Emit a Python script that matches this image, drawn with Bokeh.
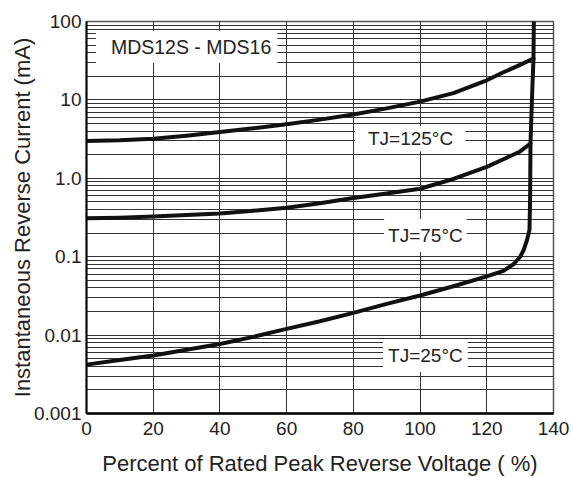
from bokeh.plotting import figure
from bokeh.models import FixedTicker, Range1d, Label
from bokeh.embed import file_html
from bokeh.resources import INLINE

# ---- data ----
pct_125 = [0, 10, 20, 30, 40, 50, 60, 70, 80, 90, 100, 110, 120, 125, 130, 134.0]
ir_125 = [3.0, 3.05, 3.2, 3.5, 3.9, 4.35, 4.9, 5.6, 6.5, 7.8, 9.5, 12.2, 17.8, 22.5, 28.0, 33.7]

pct_75 = [0, 10, 20, 30, 40, 50, 60, 70, 80, 90, 100, 110, 120, 125, 130, 133.1]
ir_75 = [0.31, 0.315, 0.325, 0.34, 0.355, 0.385, 0.42, 0.48, 0.56, 0.64, 0.735, 0.98, 1.4, 1.75, 2.2, 2.78]

pct_25 = [0, 10, 20, 30, 40, 50, 60, 70, 80, 90, 100, 110, 120, 125, 128, 130, 131.0, 132.0,
          132.8, 133.0, 133.1, 133.6, 134.0, 134.1]
ir_25 = [0.0042, 0.0048, 0.0055, 0.0065, 0.0077, 0.0095, 0.012, 0.015, 0.0192, 0.025, 0.032,
         0.042, 0.056, 0.066, 0.08, 0.1, 0.12, 0.16, 0.22, 0.6, 2.78, 12.0, 34.0, 100.0]

x_ticks = [0, 20, 40, 60, 80, 100, 120, 140]
y_ticks = [0.001, 0.01, 0.1, 1, 10, 100]
y_tick_labels = ["0.001", "0.01", "0.1", "1.0", "10", "100"]

series_labels = ["TJ=125°C", "TJ=75°C", "TJ=25°C"]
series_label_x = [97.0, 101.6, 101.6]
series_label_y = [3.2, 0.186, 0.0055]
title_label = "MDS12S - MDS16"

FONT = "Liberation Sans"
TXT = "#222222"
GRID = "#333333"

p = figure(frame_width=467, frame_height=392,
           x_range=Range1d(0, 140), y_range=Range1d(0.001, 100),
           y_axis_type="log", output_backend="svg", toolbar_location=None,
           min_border_left=86, min_border_right=20, min_border_top=21,
           min_border_bottom=64)
p.background_fill_color = "white"
p.border_fill_color = "white"
p.outline_line_color = "#555555"
p.outline_line_width = 1.5

# ticks
p.xaxis.ticker = FixedTicker(ticks=x_ticks, minor_ticks=[])
minor = [k * 10.0 ** d for d in range(-3, 2) for k in range(2, 10)]
p.yaxis.ticker = FixedTicker(ticks=y_ticks, minor_ticks=minor)
p.yaxis.major_label_overrides = {t: s for t, s in zip(y_ticks, y_tick_labels)}

for ax in (p.xaxis, p.yaxis):
    ax.major_tick_out = 0
    ax.major_tick_in = 0
    ax.minor_tick_out = 0
    ax.minor_tick_in = 0
    ax.axis_line_color = "black"
    ax.major_label_text_font = FONT
    ax.major_label_text_font_size = "19px"
    ax.major_label_text_color = TXT
    ax.axis_label_text_font = FONT
    ax.axis_label_text_font_size = "22px"
    ax.axis_label_text_font_style = "normal"
    ax.axis_label_text_color = TXT

p.xaxis.major_label_standoff = 8
p.yaxis.major_label_standoff = 5
p.xaxis.axis_line_width = 2.5
p.yaxis.axis_line_width = 2
p.xaxis.axis_label = "Percent of Rated Peak Reverse Voltage ( %)"
p.yaxis.axis_label = "Instantaneous Reverse Current (mA)"
p.xaxis.axis_label_standoff = 13
p.yaxis.axis_label_standoff = -4

# grid
p.xgrid.grid_line_color = GRID
p.xgrid.grid_line_width = 1
p.ygrid.grid_line_color = GRID
p.ygrid.grid_line_width = 1
p.ygrid.minor_grid_line_color = GRID
p.ygrid.minor_grid_line_width = 1

# curves
for xs, ys in ((pct_125, ir_125), (pct_75, ir_75), (pct_25, ir_25)):
    p.line(xs, ys, line_color="#111111", line_width=4, line_join="round", line_cap="round")

# labels
p.add_layout(Label(x=30.0, y=47.3, text=title_label, text_align="center",
                   text_baseline="middle", text_font=FONT, text_font_size="19.5px",
                   text_color=TXT, background_fill_color="white",
                   padding=dict(left=15, right=6, top=5, bottom=5)))
pads = [dict(left=13, right=12, top=2, bottom=2),
        dict(left=4, right=4, top=6, bottom=6),
        dict(left=5, right=5, top=6, bottom=6)]
for t, lx, ly, pd in zip(series_labels, series_label_x, series_label_y, pads):
    p.add_layout(Label(x=lx, y=ly, text=t, text_align="center", text_baseline="middle",
                       text_font=FONT, text_font_size="19px", text_color=TXT,
                       background_fill_color="white", padding=pd))

open("out.html", "w").write(file_html(p, INLINE))
